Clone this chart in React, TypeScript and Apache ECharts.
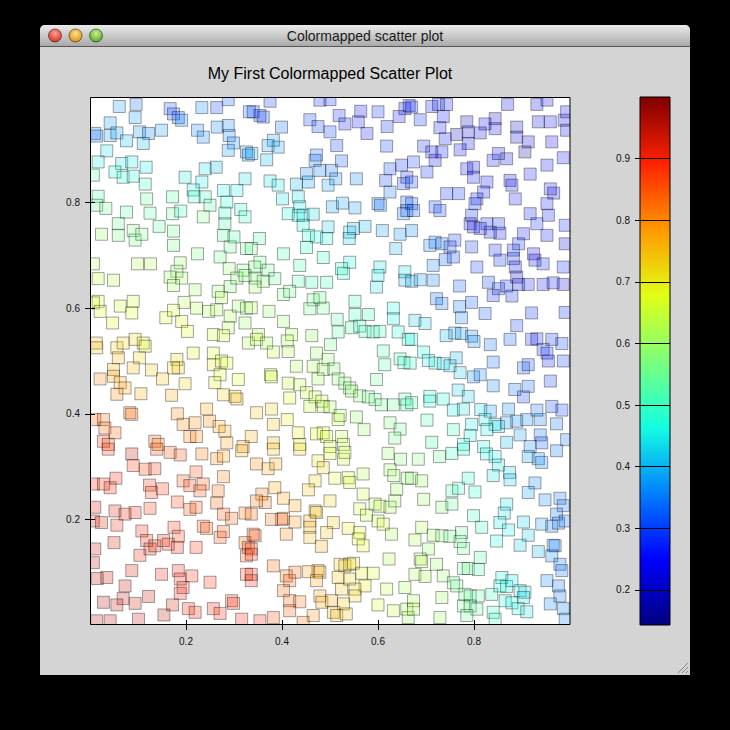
import React, { useEffect, useRef } from "react";
import * as echarts from "echarts";

// each point: [x, y, colour value]
const upperLeft = [
  [0.061, 0.982, 0.38], [0.096, 0.986, 0.34], [0.094, 0.961, 0.38], [0.167, 0.978, 0.32], [0.174, 0.968, 0.3],
  [0.184, 0.961, 0.32], [0.191, 0.956, 0.36], [0.233, 0.98, 0.36], [0.264, 0.98, 0.3], [0.288, 0.995, 0.32],
  [0.332, 0.972, 0.34], [0.042, 0.951, 0.38], [0.01, 0.931, 0.36], [0.014, 0.926, 0.34], [0.042, 0.927, 0.38],
  [0.056, 0.932, 0.38], [0.076, 0.917, 0.4], [0.103, 0.934, 0.37], [0.122, 0.931, 0.35], [0.111, 0.912, 0.4],
  [0.149, 0.937, 0.38], [0.224, 0.937, 0.36], [0.236, 0.924, 0.36], [0.265, 0.943, 0.36], [0.288, 0.946, 0.36],
  [0.29, 0.927, 0.36], [0.299, 0.913, 0.36], [0.288, 0.899, 0.38], [0.326, 0.896, 0.38], [0.33, 0.89, 0.34],
  [0.035, 0.898, 0.44], [0.017, 0.877, 0.45], [0.066, 0.874, 0.45], [0.087, 0.877, 0.45], [0.052, 0.858, 0.47],
  [0.069, 0.848, 0.48], [0.09, 0.85, 0.47], [0.117, 0.867, 0.45], [0.007, 0.852, 0.52], [0.115, 0.835, 0.5],
  [0.198, 0.848, 0.45], [0.24, 0.864, 0.44], [0.263, 0.867, 0.4], [0.233, 0.839, 0.45], [0.215, 0.824, 0.46],
  [0.278, 0.823, 0.46], [0.306, 0.823, 0.45], [0.323, 0.845, 0.44], [0.017, 0.812, 0.52], [0.014, 0.795, 0.55],
  [0.033, 0.789, 0.55], [0.076, 0.782, 0.53], [0.118, 0.807, 0.55], [0.125, 0.78, 0.54], [0.172, 0.811, 0.53],
  [0.172, 0.779, 0.55], [0.189, 0.784, 0.5], [0.217, 0.811, 0.49], [0.24, 0.811, 0.5], [0.25, 0.795, 0.52],
  [0.236, 0.773, 0.57], [0.285, 0.801, 0.47], [0.281, 0.78, 0.5], [0.314, 0.787, 0.48], [0.323, 0.773, 0.5],
  [0.059, 0.76, 0.55], [0.024, 0.74, 0.6], [0.059, 0.738, 0.57], [0.09, 0.747, 0.58], [0.094, 0.729, 0.56],
  [0.108, 0.74, 0.56], [0.144, 0.755, 0.54], [0.174, 0.746, 0.55], [0.174, 0.719, 0.56], [0.281, 0.76, 0.52],
  [0.278, 0.738, 0.53], [0.3, 0.735, 0.52], [0.292, 0.716, 0.55], [0.271, 0.697, 0.55], [0.224, 0.703, 0.57],
  [0.326, 0.713, 0.55], [0.007, 0.684, 0.63], [0.099, 0.684, 0.63], [0.126, 0.684, 0.63], [0.188, 0.686, 0.6],
  [0.181, 0.67, 0.6], [0.29, 0.675, 0.6], [0.319, 0.672, 0.58],
];

const upperMiddle = [
  [0.375, 0.992, 0.3], [0.479, 0.994, 0.28], [0.5, 0.995, 0.28], [0.34, 0.972, 0.3], [0.354, 0.965, 0.28],
  [0.361, 0.962, 0.3], [0.399, 0.943, 0.34], [0.458, 0.957, 0.3], [0.475, 0.944, 0.3], [0.5, 0.934, 0.3],
  [0.519, 0.965, 0.28], [0.531, 0.949, 0.27], [0.559, 0.953, 0.27], [0.564, 0.973, 0.25], [0.6, 0.972, 0.28],
  [0.577, 0.931, 0.26], [0.619, 0.944, 0.28], [0.618, 0.907, 0.3], [0.644, 0.963, 0.26], [0.656, 0.978, 0.25],
  [0.665, 0.984, 0.26], [0.514, 0.908, 0.3], [0.382, 0.918, 0.38], [0.371, 0.908, 0.38], [0.392, 0.905, 0.38],
  [0.368, 0.881, 0.4], [0.337, 0.893, 0.4], [0.472, 0.89, 0.34], [0.469, 0.88, 0.34], [0.524, 0.879, 0.32],
  [0.479, 0.861, 0.34], [0.503, 0.861, 0.34], [0.451, 0.855, 0.36], [0.455, 0.839, 0.38], [0.43, 0.835, 0.4],
  [0.375, 0.841, 0.44], [0.392, 0.833, 0.44], [0.496, 0.833, 0.38], [0.512, 0.845, 0.37], [0.555, 0.845, 0.36],
  [0.616, 0.842, 0.3], [0.625, 0.864, 0.3], [0.649, 0.871, 0.28], [0.66, 0.848, 0.28], [0.653, 0.836, 0.3],
  [0.625, 0.82, 0.34], [0.66, 0.801, 0.32], [0.401, 0.807, 0.44], [0.434, 0.811, 0.44], [0.437, 0.792, 0.45],
  [0.413, 0.779, 0.46], [0.434, 0.776, 0.46], [0.444, 0.776, 0.45], [0.465, 0.778, 0.43], [0.505, 0.792, 0.38],
  [0.526, 0.799, 0.38], [0.552, 0.79, 0.38], [0.6, 0.798, 0.35], [0.605, 0.795, 0.34], [0.653, 0.779, 0.34],
  [0.66, 0.785, 0.32], [0.444, 0.757, 0.47], [0.496, 0.754, 0.42], [0.541, 0.744, 0.42], [0.549, 0.751, 0.4],
  [0.573, 0.755, 0.4], [0.609, 0.747, 0.38], [0.646, 0.74, 0.37], [0.455, 0.738, 0.48], [0.472, 0.735, 0.47],
  [0.493, 0.732, 0.46], [0.54, 0.732, 0.42], [0.353, 0.732, 0.52], [0.336, 0.713, 0.55], [0.403, 0.703, 0.52],
  [0.451, 0.715, 0.48], [0.486, 0.696, 0.48], [0.637, 0.713, 0.4], [0.541, 0.687, 0.46], [0.604, 0.678, 0.44],
  [0.437, 0.681, 0.52], [0.354, 0.687, 0.55], [0.343, 0.678, 0.57], [0.371, 0.672, 0.55], [0.524, 0.675, 0.48],
  [0.656, 0.669, 0.44],
];

const upperRight = [
  [0.67, 0.981, 0.28], [0.688, 0.957, 0.28], [0.712, 0.982, 0.27], [0.726, 0.986, 0.26], [0.743, 0.986, 0.27],
  [0.729, 0.942, 0.26], [0.736, 0.963, 0.26], [0.74, 0.921, 0.26], [0.764, 0.929, 0.2], [0.785, 0.953, 0.2],
  [0.788, 0.934, 0.22], [0.788, 0.912, 0.24], [0.771, 0.9, 0.25], [0.813, 0.932, 0.24], [0.823, 0.949, 0.25],
  [0.844, 0.959, 0.22], [0.844, 0.94, 0.24], [0.87, 0.986, 0.25], [0.889, 0.943, 0.2], [0.889, 0.924, 0.22],
  [0.906, 0.896, 0.18], [0.913, 0.915, 0.22], [0.931, 0.986, 0.24], [0.934, 0.953, 0.22], [0.952, 0.994, 0.24],
  [0.959, 0.953, 0.24], [0.962, 0.915, 0.25], [0.988, 0.956, 0.24], [0.993, 0.972, 0.24], [0.993, 0.937, 0.24],
  [0.695, 0.907, 0.28], [0.712, 0.896, 0.24], [0.719, 0.88, 0.25], [0.733, 0.896, 0.26], [0.674, 0.877, 0.3],
  [0.702, 0.858, 0.28], [0.67, 0.839, 0.3], [0.785, 0.864, 0.26], [0.799, 0.867, 0.24], [0.799, 0.848, 0.26],
  [0.84, 0.88, 0.26], [0.851, 0.893, 0.26], [0.868, 0.883, 0.22], [0.917, 0.854, 0.26], [0.952, 0.871, 0.26],
  [0.986, 0.885, 0.26], [0.875, 0.842, 0.24], [0.879, 0.833, 0.26], [0.827, 0.839, 0.26], [0.82, 0.82, 0.26],
  [0.743, 0.817, 0.28], [0.768, 0.817, 0.28], [0.806, 0.807, 0.26], [0.886, 0.807, 0.27], [0.959, 0.826, 0.26],
  [0.966, 0.818, 0.22], [0.67, 0.798, 0.32], [0.719, 0.792, 0.3], [0.729, 0.785, 0.3], [0.674, 0.785, 0.32],
  [0.795, 0.776, 0.28], [0.802, 0.798, 0.28], [0.952, 0.798, 0.27], [0.955, 0.776, 0.27], [0.917, 0.779, 0.27],
  [0.792, 0.76, 0.22], [0.799, 0.754, 0.24], [0.813, 0.751, 0.26], [0.827, 0.76, 0.28], [0.834, 0.744, 0.26],
  [0.851, 0.76, 0.28], [0.854, 0.742, 0.26], [0.903, 0.741, 0.26], [0.931, 0.76, 0.28], [0.952, 0.738, 0.26],
  [0.893, 0.722, 0.28], [0.882, 0.71, 0.28], [0.99, 0.757, 0.28], [0.99, 0.722, 0.22], [0.67, 0.747, 0.36],
  [0.708, 0.719, 0.36], [0.719, 0.725, 0.34], [0.733, 0.722, 0.34], [0.76, 0.729, 0.3], [0.75, 0.716, 0.3],
  [0.757, 0.697, 0.3], [0.74, 0.692, 0.32], [0.715, 0.681, 0.36], [0.795, 0.716, 0.3], [0.806, 0.678, 0.3],
  [0.844, 0.71, 0.28], [0.854, 0.691, 0.28], [0.882, 0.694, 0.28], [0.886, 0.678, 0.24], [0.924, 0.703, 0.24],
  [0.927, 0.691, 0.24], [0.944, 0.684, 0.28], [0.986, 0.678, 0.28],
];

const centerLeft = [
  [0.017, 0.656, 0.65], [0.049, 0.653, 0.63], [0.167, 0.659, 0.6], [0.191, 0.657, 0.6], [0.174, 0.643, 0.62],
  [0.219, 0.635, 0.6], [0.267, 0.632, 0.6], [0.292, 0.641, 0.57], [0.274, 0.62, 0.63], [0.306, 0.657, 0.58],
  [0.323, 0.662, 0.58], [0.017, 0.613, 0.68], [0.007, 0.61, 0.68], [0.021, 0.594, 0.68], [0.063, 0.604, 0.66],
  [0.09, 0.613, 0.65], [0.087, 0.591, 0.68], [0.158, 0.582, 0.68], [0.174, 0.596, 0.66], [0.191, 0.575, 0.68],
  [0.203, 0.556, 0.69], [0.196, 0.611, 0.62], [0.222, 0.6, 0.62], [0.247, 0.594, 0.62], [0.264, 0.597, 0.62],
  [0.292, 0.585, 0.62], [0.309, 0.604, 0.6], [0.326, 0.6, 0.6], [0.288, 0.563, 0.62], [0.257, 0.55, 0.65],
  [0.278, 0.548, 0.65], [0.323, 0.572, 0.6], [0.33, 0.534, 0.62], [0.047, 0.572, 0.7], [0.013, 0.534, 0.75],
  [0.014, 0.525, 0.74], [0.056, 0.525, 0.73], [0.069, 0.534, 0.72], [0.094, 0.541, 0.72], [0.111, 0.534, 0.7],
  [0.115, 0.528, 0.7], [0.059, 0.506, 0.75], [0.103, 0.506, 0.72], [0.181, 0.503, 0.72], [0.184, 0.487, 0.74],
  [0.215, 0.515, 0.7], [0.257, 0.515, 0.67], [0.257, 0.493, 0.7], [0.274, 0.5, 0.67], [0.285, 0.496, 0.68],
  [0.271, 0.474, 0.67], [0.26, 0.459, 0.7], [0.309, 0.465, 0.68], [0.049, 0.484, 0.77], [0.021, 0.466, 0.8],
  [0.049, 0.471, 0.78], [0.063, 0.459, 0.78], [0.073, 0.449, 0.78], [0.09, 0.487, 0.75], [0.128, 0.483, 0.74],
  [0.151, 0.466, 0.74], [0.198, 0.457, 0.72], [0.174, 0.487, 0.72], [0.056, 0.437, 0.8], [0.106, 0.438, 0.77],
  [0.17, 0.435, 0.76], [0.278, 0.436, 0.72], [0.302, 0.433, 0.73], [0.306, 0.428, 0.76], [0.01, 0.389, 0.85],
  [0.028, 0.389, 0.83], [0.031, 0.373, 0.84], [0.052, 0.364, 0.83], [0.083, 0.402, 0.84], [0.087, 0.399, 0.82],
  [0.182, 0.4, 0.8], [0.194, 0.38, 0.8], [0.243, 0.409, 0.78], [0.249, 0.386, 0.8], [0.219, 0.383, 0.8],
  [0.208, 0.357, 0.81], [0.222, 0.357, 0.8], [0.269, 0.376, 0.78], [0.281, 0.367, 0.78], [0.028, 0.348, 0.88],
  [0.038, 0.342, 0.86], [0.135, 0.348, 0.84], [0.142, 0.342, 0.82], [0.285, 0.345, 0.78], [0.319, 0.338, 0.8],
];

const centerMiddle = [
  [0.344, 0.657, 0.58], [0.361, 0.651, 0.58], [0.385, 0.656, 0.55], [0.434, 0.651, 0.52], [0.462, 0.649, 0.5],
  [0.493, 0.649, 0.5], [0.528, 0.666, 0.48], [0.6, 0.662, 0.45], [0.656, 0.653, 0.4], [0.597, 0.64, 0.44],
  [0.344, 0.64, 0.6], [0.403, 0.626, 0.56], [0.416, 0.632, 0.55], [0.465, 0.616, 0.55], [0.479, 0.62, 0.55],
  [0.458, 0.599, 0.56], [0.486, 0.6, 0.56], [0.552, 0.613, 0.5], [0.336, 0.601, 0.62], [0.373, 0.594, 0.6],
  [0.403, 0.575, 0.6], [0.515, 0.579, 0.52], [0.517, 0.555, 0.52], [0.552, 0.588, 0.5], [0.58, 0.588, 0.5],
  [0.545, 0.563, 0.52], [0.562, 0.566, 0.5], [0.573, 0.556, 0.5], [0.59, 0.555, 0.5], [0.604, 0.556, 0.5],
  [0.632, 0.6, 0.46], [0.632, 0.58, 0.45], [0.642, 0.555, 0.47], [0.663, 0.541, 0.48], [0.611, 0.519, 0.52],
  [0.646, 0.504, 0.5], [0.654, 0.497, 0.5], [0.614, 0.493, 0.52], [0.351, 0.55, 0.64], [0.347, 0.541, 0.64],
  [0.368, 0.534, 0.62], [0.382, 0.517, 0.64], [0.42, 0.55, 0.62], [0.411, 0.538, 0.62], [0.413, 0.518, 0.63],
  [0.462, 0.548, 0.6], [0.501, 0.531, 0.56], [0.472, 0.515, 0.6], [0.496, 0.503, 0.6], [0.465, 0.49, 0.62],
  [0.486, 0.484, 0.6], [0.508, 0.485, 0.58], [0.43, 0.49, 0.63], [0.475, 0.466, 0.62], [0.517, 0.466, 0.58],
  [0.531, 0.458, 0.58], [0.541, 0.449, 0.58], [0.545, 0.443, 0.6], [0.562, 0.434, 0.58], [0.58, 0.432, 0.56],
  [0.594, 0.427, 0.56], [0.607, 0.417, 0.55], [0.632, 0.417, 0.55], [0.656, 0.428, 0.52], [0.66, 0.417, 0.5],
  [0.597, 0.465, 0.55], [0.376, 0.474, 0.66], [0.378, 0.47, 0.66], [0.413, 0.458, 0.65], [0.437, 0.455, 0.64],
  [0.416, 0.43, 0.68], [0.451, 0.44, 0.64], [0.469, 0.432, 0.65], [0.458, 0.414, 0.65], [0.483, 0.424, 0.64],
  [0.486, 0.414, 0.64], [0.5, 0.413, 0.63], [0.517, 0.389, 0.65], [0.521, 0.397, 0.62], [0.555, 0.394, 0.6],
  [0.571, 0.37, 0.6], [0.625, 0.383, 0.57], [0.646, 0.371, 0.55], [0.635, 0.354, 0.56], [0.347, 0.402, 0.73],
  [0.378, 0.409, 0.72], [0.382, 0.38, 0.74], [0.411, 0.389, 0.7], [0.434, 0.364, 0.7], [0.472, 0.362, 0.68],
  [0.486, 0.364, 0.68], [0.493, 0.357, 0.66], [0.524, 0.357, 0.64], [0.528, 0.342, 0.64], [0.336, 0.357, 0.76],
  [0.382, 0.345, 0.76], [0.437, 0.342, 0.7], [0.5, 0.338, 0.66],
];

const centerRight = [
  [0.67, 0.651, 0.38], [0.688, 0.654, 0.38], [0.715, 0.653, 0.35], [0.77, 0.642, 0.32], [0.83, 0.649, 0.3],
  [0.851, 0.637, 0.28], [0.868, 0.642, 0.28], [0.889, 0.659, 0.2], [0.893, 0.645, 0.24], [0.913, 0.645, 0.27],
  [0.944, 0.645, 0.26], [0.965, 0.648, 0.26], [0.986, 0.645, 0.22], [0.84, 0.624, 0.28], [0.879, 0.623, 0.28],
  [0.722, 0.618, 0.34], [0.733, 0.609, 0.34], [0.77, 0.603, 0.34], [0.795, 0.611, 0.32], [0.823, 0.59, 0.32],
  [0.774, 0.582, 0.36], [0.92, 0.591, 0.28], [0.99, 0.592, 0.28], [0.677, 0.577, 0.42], [0.698, 0.571, 0.43],
  [0.889, 0.567, 0.3], [0.67, 0.541, 0.45], [0.742, 0.548, 0.4], [0.76, 0.553, 0.38], [0.774, 0.552, 0.38],
  [0.795, 0.547, 0.36], [0.8, 0.537, 0.36], [0.834, 0.531, 0.34], [0.875, 0.541, 0.32], [0.92, 0.541, 0.28],
  [0.931, 0.542, 0.27], [0.962, 0.541, 0.28], [0.983, 0.533, 0.3], [0.944, 0.522, 0.28], [0.952, 0.515, 0.27],
  [0.695, 0.517, 0.46], [0.705, 0.501, 0.45], [0.719, 0.496, 0.45], [0.736, 0.495, 0.44], [0.75, 0.491, 0.42],
  [0.763, 0.506, 0.4], [0.771, 0.478, 0.42], [0.799, 0.47, 0.36], [0.813, 0.474, 0.36], [0.84, 0.498, 0.34],
  [0.903, 0.487, 0.32], [0.913, 0.493, 0.3], [0.955, 0.5, 0.27], [0.986, 0.5, 0.3], [0.667, 0.496, 0.48],
  [0.84, 0.453, 0.36], [0.885, 0.446, 0.34], [0.903, 0.432, 0.3], [0.913, 0.452, 0.33], [0.959, 0.462, 0.3],
  [0.767, 0.445, 0.42], [0.788, 0.433, 0.42], [0.708, 0.433, 0.48], [0.708, 0.424, 0.48], [0.736, 0.428, 0.46],
  [0.757, 0.407, 0.45], [0.778, 0.409, 0.44], [0.67, 0.421, 0.52], [0.814, 0.408, 0.44], [0.834, 0.405, 0.38],
  [0.872, 0.409, 0.36], [0.931, 0.407, 0.34], [0.962, 0.414, 0.3], [0.983, 0.407, 0.3], [0.702, 0.388, 0.52],
  [0.795, 0.38, 0.45], [0.823, 0.389, 0.45], [0.844, 0.38, 0.44], [0.827, 0.37, 0.45], [0.851, 0.376, 0.43],
  [0.868, 0.383, 0.38], [0.889, 0.386, 0.36], [0.91, 0.389, 0.36], [0.938, 0.389, 0.34], [0.972, 0.381, 0.34],
  [0.757, 0.37, 0.5], [0.792, 0.359, 0.46], [0.896, 0.36, 0.38], [0.938, 0.36, 0.34], [0.941, 0.345, 0.32],
  [0.712, 0.346, 0.52], [0.778, 0.342, 0.48], [0.82, 0.338, 0.46], [0.868, 0.346, 0.4], [0.917, 0.338, 0.36],
  [0.993, 0.351, 0.34],
];

const lowerLeft = [
  [0.038, 0.333, 0.88], [0.087, 0.324, 0.95], [0.09, 0.302, 0.88], [0.139, 0.333, 0.85], [0.167, 0.327, 0.86],
  [0.188, 0.322, 0.86], [0.233, 0.324, 0.82], [0.264, 0.315, 0.8], [0.278, 0.32, 0.78], [0.316, 0.33, 0.76],
  [0.115, 0.295, 0.88], [0.135, 0.296, 0.88], [0.007, 0.267, 0.9], [0.028, 0.267, 0.9], [0.042, 0.26, 0.9],
  [0.054, 0.278, 0.9], [0.124, 0.265, 0.88], [0.128, 0.251, 0.88], [0.151, 0.258, 0.88], [0.194, 0.273, 0.86],
  [0.208, 0.264, 0.88], [0.221, 0.29, 0.86], [0.236, 0.267, 0.85], [0.229, 0.254, 0.86], [0.267, 0.254, 0.84],
  [0.264, 0.231, 0.84], [0.278, 0.281, 0.8], [0.182, 0.233, 0.87], [0.208, 0.219, 0.86], [0.221, 0.223, 0.86],
  [0.01, 0.223, 0.92], [0.007, 0.197, 0.93], [0.024, 0.194, 0.92], [0.052, 0.216, 0.92], [0.056, 0.189, 0.9],
  [0.073, 0.21, 0.92], [0.094, 0.213, 0.9], [0.125, 0.221, 0.88], [0.108, 0.178, 0.9], [0.175, 0.185, 0.88],
  [0.184, 0.168, 0.88], [0.236, 0.187, 0.86], [0.243, 0.183, 0.86], [0.271, 0.166, 0.86], [0.278, 0.177, 0.86],
  [0.278, 0.21, 0.85], [0.295, 0.202, 0.84], [0.323, 0.212, 0.82], [0.323, 0.156, 0.84], [0.33, 0.147, 0.86],
  [0.05, 0.156, 0.92], [0.01, 0.144, 0.94], [0.007, 0.118, 0.95], [0.118, 0.16, 0.9], [0.104, 0.132, 0.9],
  [0.125, 0.144, 0.92], [0.135, 0.15, 0.92], [0.153, 0.16, 0.9], [0.163, 0.153, 0.9], [0.182, 0.147, 0.9],
  [0.221, 0.147, 0.88], [0.326, 0.131, 0.86], [0.326, 0.096, 0.88], [0.087, 0.103, 0.92], [0.015, 0.088, 0.94],
  [0.035, 0.09, 0.94], [0.149, 0.096, 0.9], [0.184, 0.103, 0.9], [0.188, 0.087, 0.9], [0.212, 0.093, 0.88],
  [0.194, 0.071, 0.9], [0.188, 0.06, 0.9], [0.25, 0.081, 0.88], [0.073, 0.074, 0.94], [0.069, 0.05, 0.94],
  [0.094, 0.041, 0.93], [0.122, 0.054, 0.94], [0.028, 0.043, 0.96], [0.056, 0.038, 0.95], [0.172, 0.038, 0.92],
  [0.154, 0.019, 0.95], [0.205, 0.031, 0.9], [0.219, 0.024, 0.9], [0.257, 0.031, 0.9], [0.271, 0.022, 0.9],
  [0.295, 0.046, 0.88], [0.299, 0.041, 0.9], [0.316, 0.011, 0.9], [0.101, 0.011, 0.94], [0.014, 0.008, 0.96],
  [0.042, 0.008, 0.95],
];

const lowerMiddle = [
  [0.382, 0.333, 0.74], [0.437, 0.333, 0.72], [0.347, 0.305, 0.8], [0.371, 0.296, 0.78], [0.387, 0.305, 0.78],
  [0.475, 0.311, 0.7], [0.486, 0.298, 0.72], [0.5, 0.325, 0.68], [0.528, 0.314, 0.65], [0.531, 0.327, 0.66],
  [0.51, 0.278, 0.68], [0.538, 0.279, 0.66], [0.541, 0.27, 0.67], [0.569, 0.286, 0.63], [0.621, 0.325, 0.6],
  [0.647, 0.314, 0.58], [0.625, 0.294, 0.6], [0.633, 0.283, 0.6], [0.661, 0.278, 0.58], [0.469, 0.273, 0.72],
  [0.455, 0.256, 0.74], [0.385, 0.26, 0.78], [0.358, 0.248, 0.82], [0.365, 0.232, 0.82], [0.347, 0.235, 0.82],
  [0.403, 0.24, 0.78], [0.427, 0.226, 0.78], [0.639, 0.257, 0.6], [0.569, 0.248, 0.64], [0.562, 0.22, 0.66],
  [0.576, 0.208, 0.65], [0.594, 0.229, 0.63], [0.604, 0.225, 0.64], [0.625, 0.223, 0.62], [0.635, 0.235, 0.6],
  [0.6, 0.197, 0.64], [0.611, 0.191, 0.66], [0.628, 0.172, 0.62], [0.469, 0.216, 0.74], [0.472, 0.213, 0.76],
  [0.5, 0.235, 0.72], [0.458, 0.197, 0.76], [0.458, 0.185, 0.76], [0.458, 0.166, 0.75], [0.507, 0.194, 0.74],
  [0.493, 0.175, 0.74], [0.482, 0.149, 0.76], [0.403, 0.202, 0.82], [0.399, 0.2, 0.84], [0.378, 0.2, 0.82],
  [0.427, 0.195, 0.8], [0.409, 0.172, 0.8], [0.336, 0.21, 0.84], [0.34, 0.172, 0.86], [0.344, 0.169, 0.86],
  [0.336, 0.144, 0.88], [0.336, 0.134, 0.88], [0.538, 0.183, 0.7], [0.562, 0.175, 0.68], [0.559, 0.163, 0.68],
  [0.569, 0.15, 0.68], [0.623, 0.125, 0.62], [0.382, 0.112, 0.84], [0.409, 0.093, 0.84], [0.416, 0.084, 0.84],
  [0.427, 0.1, 0.84], [0.455, 0.101, 0.78], [0.475, 0.103, 0.78], [0.479, 0.1, 0.76], [0.472, 0.084, 0.78],
  [0.521, 0.115, 0.74], [0.531, 0.112, 0.74], [0.541, 0.115, 0.72], [0.549, 0.117, 0.72], [0.517, 0.09, 0.74],
  [0.524, 0.068, 0.74], [0.541, 0.087, 0.72], [0.566, 0.098, 0.7], [0.59, 0.098, 0.68], [0.573, 0.074, 0.7],
  [0.552, 0.068, 0.72], [0.552, 0.055, 0.72], [0.618, 0.068, 0.64], [0.656, 0.071, 0.62], [0.336, 0.096, 0.9],
  [0.336, 0.084, 0.9], [0.403, 0.065, 0.84], [0.416, 0.046, 0.84], [0.437, 0.044, 0.82], [0.479, 0.055, 0.78],
  [0.483, 0.043, 0.78], [0.503, 0.046, 0.76], [0.528, 0.04, 0.74], [0.507, 0.024, 0.76], [0.514, 0.018, 0.75],
  [0.534, 0.021, 0.74], [0.465, 0.018, 0.8], [0.6, 0.038, 0.66], [0.632, 0.027, 0.64], [0.66, 0.03, 0.62],
  [0.663, 0.014, 0.6], [0.416, 0.027, 0.84], [0.382, 0.014, 0.86], [0.354, 0.008, 0.9], [0.444, 0.005, 0.82],
];

const lowerRight = [
  [0.684, 0.314, 0.58], [0.728, 0.319, 0.55], [0.754, 0.325, 0.5], [0.778, 0.333, 0.48], [0.826, 0.324, 0.45],
  [0.844, 0.319, 0.45], [0.851, 0.303, 0.44], [0.84, 0.283, 0.44], [0.874, 0.289, 0.42], [0.875, 0.275, 0.42],
  [0.913, 0.319, 0.38], [0.934, 0.315, 0.37], [0.941, 0.308, 0.36], [0.972, 0.33, 0.34], [0.67, 0.278, 0.6],
  [0.691, 0.273, 0.6], [0.754, 0.254, 0.52], [0.768, 0.259, 0.5], [0.788, 0.278, 0.48], [0.802, 0.252, 0.48],
  [0.927, 0.269, 0.36], [0.913, 0.251, 0.38], [0.948, 0.237, 0.36], [0.979, 0.24, 0.34], [0.986, 0.226, 0.34],
  [0.695, 0.238, 0.6], [0.733, 0.223, 0.58], [0.754, 0.229, 0.55], [0.799, 0.207, 0.5], [0.816, 0.185, 0.5],
  [0.868, 0.229, 0.44], [0.863, 0.212, 0.44], [0.854, 0.194, 0.45], [0.872, 0.18, 0.45], [0.903, 0.195, 0.42],
  [0.913, 0.17, 0.42], [0.941, 0.191, 0.38], [0.962, 0.187, 0.35], [0.972, 0.21, 0.34], [0.976, 0.193, 0.34],
  [0.99, 0.197, 0.34], [0.847, 0.159, 0.46], [0.896, 0.151, 0.43], [0.934, 0.139, 0.4], [0.965, 0.151, 0.36],
  [0.969, 0.15, 0.36], [0.691, 0.185, 0.62], [0.677, 0.161, 0.62], [0.715, 0.17, 0.6], [0.733, 0.169, 0.58],
  [0.75, 0.168, 0.56], [0.774, 0.175, 0.55], [0.771, 0.158, 0.55], [0.778, 0.145, 0.55], [0.705, 0.144, 0.6],
  [0.688, 0.125, 0.62], [0.691, 0.12, 0.62], [0.722, 0.115, 0.6], [0.677, 0.096, 0.62], [0.698, 0.092, 0.62],
  [0.736, 0.093, 0.6], [0.778, 0.107, 0.55], [0.788, 0.107, 0.55], [0.813, 0.128, 0.52], [0.809, 0.105, 0.52],
  [0.962, 0.131, 0.36], [0.979, 0.115, 0.34], [0.983, 0.103, 0.34], [0.952, 0.084, 0.36], [0.976, 0.074, 0.34],
  [0.979, 0.055, 0.35], [0.986, 0.031, 0.35], [0.757, 0.08, 0.56], [0.764, 0.074, 0.56], [0.781, 0.058, 0.55],
  [0.792, 0.055, 0.54], [0.809, 0.055, 0.54], [0.778, 0.036, 0.56], [0.792, 0.036, 0.55], [0.806, 0.03, 0.54],
  [0.785, 0.018, 0.55], [0.837, 0.058, 0.5], [0.858, 0.09, 0.46], [0.854, 0.074, 0.47], [0.868, 0.073, 0.46],
  [0.879, 0.084, 0.45], [0.896, 0.065, 0.44], [0.906, 0.062, 0.44], [0.903, 0.052, 0.44], [0.865, 0.046, 0.46],
  [0.879, 0.042, 0.46], [0.892, 0.031, 0.46], [0.91, 0.025, 0.44], [0.959, 0.04, 0.36], [0.674, 0.046, 0.62],
  [0.674, 0.03, 0.62], [0.733, 0.052, 0.6], [0.729, 0.014, 0.6], [0.84, 0.024, 0.5], [0.844, 0.011, 0.5],
  [0.99, 0.011, 0.36],
];

const axisTicks = [0.2, 0.4, 0.6, 0.8];
const colorTicks = [0.2, 0.3, 0.4, 0.5, 0.6, 0.7, 0.8, 0.9];
const colorMin = 0.143;
const colorMax = 1.0;

// matplotlib "jet", sampled at 9 even steps
const jet = ["#00007f", "#0000ff", "#0080ff", "#14ffe2", "#7bff7b", "#e2ff14", "#ff9700", "#ff2100", "#7f0000"];

const withAlpha = (hex: string, a: number) => {
  const n = parseInt(hex.slice(1), 16);
  return `rgba(${(n >> 16) & 255},${(n >> 8) & 255},${n & 255},${a})`;
};

const FONT = '"Liberation Sans", Arial, sans-serif';
const WIN = "#d4d4d4";

const App = () => {
  const chartRef = useRef<HTMLDivElement>(null);

  useEffect(() => {
    const chart = echarts.init(chartRef.current, null, { renderer: "svg" });

    const points = [
      ...upperLeft, ...upperMiddle, ...upperRight,
      ...centerLeft, ...centerMiddle, ...centerRight,
      ...lowerLeft, ...lowerMiddle, ...lowerRight,
    ];

    const plot = { left: 90, top: 97, width: 480, height: 528 };
    const bar = { left: 640, top: 97, width: 30, height: 528 };
    const tickLabel = { fontSize: 10, color: "#111", fontFamily: FONT };

    chart.setOption({
      animation: false,
      backgroundColor: "#000",
      grid: [
        { ...plot, show: true, backgroundColor: "#fff", borderWidth: 0 },
        { ...plot, show: false },
        {
          ...bar,
          show: true,
          borderColor: "#000",
          borderWidth: 1,
          backgroundColor: new echarts.graphic.LinearGradient(
            0, 1, 0, 0,
            jet.map((c, i) => ({ offset: i / (jet.length - 1), color: c }))
          ),
        },
        { ...bar, show: false },
      ],
      xAxis: [
        {
          gridIndex: 0, type: "value", min: 0, max: 1, z: 10,
          axisLine: { show: false }, splitLine: { show: false },
          axisTick: { show: true, length: 5, customValues: axisTicks, lineStyle: { color: "#000" } },
          axisLabel: { ...tickLabel, margin: 11, customValues: axisTicks },
        },
        {
          gridIndex: 1, type: "value", min: 0, max: 1, z: 10,
          axisLine: { show: false }, splitLine: { show: false }, axisLabel: { show: false },
          axisTick: { show: true, inside: true, length: 5, customValues: axisTicks, lineStyle: { color: "#000" } },
        },
        { gridIndex: 2, type: "value", min: 0, max: 1, show: false },
        { gridIndex: 3, type: "value", min: 0, max: 1, show: false },
      ],
      yAxis: [
        {
          gridIndex: 0, type: "value", min: 0, max: 1, z: 10,
          axisLine: { show: false }, splitLine: { show: false },
          axisTick: { show: true, length: 5, customValues: axisTicks, lineStyle: { color: "#000" } },
          axisLabel: { ...tickLabel, margin: 10, customValues: axisTicks },
        },
        {
          gridIndex: 1, type: "value", min: 0, max: 1, z: 10,
          axisLine: { show: false }, splitLine: { show: false }, axisLabel: { show: false },
          axisTick: { show: true, inside: true, length: 5, customValues: axisTicks, lineStyle: { color: "#000" } },
        },
        {
          gridIndex: 2, type: "value", min: colorMin, max: colorMax, position: "left", z: 10,
          axisLine: { show: false }, splitLine: { show: false },
          axisTick: { show: true, length: 5, customValues: colorTicks, lineStyle: { color: "#000" } },
          axisLabel: { ...tickLabel, margin: 10, customValues: colorTicks },
        },
        {
          gridIndex: 3, type: "value", min: colorMin, max: colorMax, position: "left", z: 10,
          axisLine: { show: false }, splitLine: { show: false }, axisLabel: { show: false },
          axisTick: { show: true, inside: true, length: 30, customValues: colorTicks, lineStyle: { color: "#000" } },
        },
      ],
      visualMap: {
        type: "continuous",
        show: false,
        seriesIndex: 0,
        dimension: 2,
        min: colorMin,
        max: colorMax,
        inRange: { color: jet.map((c) => withAlpha(c, 0.3)) },
      },
      series: [
        {
          type: "scatter",
          xAxisIndex: 0,
          yAxisIndex: 0,
          symbol: "rect",
          symbolSize: 12,
          data: points,
          itemStyle: { borderColor: "rgba(0,0,0,0.45)", borderWidth: 1 },
          emphasis: { disabled: true },
        },
      ],
      graphic: [
        // window frame
        { type: "rect", z: -1, shape: { x: 40, y: 25, width: 650, height: 650, r: [5, 5, 0, 0] }, style: { fill: WIN } },
        {
          type: "rect", z: -1,
          shape: { x: 40, y: 25, width: 650, height: 21, r: [5, 5, 0, 0] },
          style: {
            fill: new echarts.graphic.LinearGradient(0, 0, 0, 1, [
              { offset: 0, color: "#ebebeb" },
              { offset: 1, color: "#a9a9a9" },
            ]),
          },
        },
        { type: "line", z: -1, shape: { x1: 40, y1: 46.5, x2: 690, y2: 46.5 }, style: { stroke: "#585858", lineWidth: 1 } },
        ...[
          ["#ff9d92", "#d42a1c"],
          ["#ffe08c", "#d98c00"],
          ["#c8f28e", "#4c9e22"],
        ].map(([inner, outer], i) => ({
          type: "circle",
          z: -1,
          shape: { cx: 55 + i * 20.5, cy: 35.5, r: 6.5 },
          style: {
            fill: new echarts.graphic.RadialGradient(0.5, 0.35, 0.7, [
              { offset: 0, color: inner },
              { offset: 1, color: outer },
            ]),
            stroke: "rgba(0,0,0,0.45)",
            lineWidth: 1,
          },
        })),
        {
          type: "text", z: -1, x: 365, y: 35.5,
          style: { text: "Colormapped scatter plot", fill: "#1a1a1a", font: `14px ${FONT}`, textAlign: "center", textVerticalAlign: "middle" },
        },
        ...[0, 4, 8].map((d) => ({
          type: "line", z: -1,
          shape: { x1: 678 + d, y1: 673, x2: 688, y2: 663 + d },
          style: { stroke: "#8a8a8a", lineWidth: 1 },
        })),
        // chart title
        {
          type: "text", x: 330, y: 73,
          style: { text: "My First Colormapped Scatter Plot", fill: "#000", font: `16px ${FONT}`, textAlign: "center", textVerticalAlign: "middle" },
        },
        // masks hiding the parts of squares that spill out of the plot
        { type: "rect", z: 5, shape: { x: 78, y: 84, width: 12, height: 554 }, style: { fill: WIN } },
        { type: "rect", z: 5, shape: { x: 570, y: 84, width: 12, height: 554 }, style: { fill: WIN } },
        { type: "rect", z: 5, shape: { x: 78, y: 84, width: 504, height: 13 }, style: { fill: WIN } },
        { type: "rect", z: 5, shape: { x: 78, y: 625, width: 504, height: 13 }, style: { fill: WIN } },
        { type: "rect", z: 6, shape: { x: 90.5, y: 97.5, width: 479.5, height: 527 }, style: { fill: "none", stroke: "#000", lineWidth: 1 } },
      ],
    });

    return () => {
      chart.dispose();
    };
  }, []);

  return (
    <div
      ref={chartRef}
      style={{ position: "fixed", left: 0, top: 0, width: "730px", height: "730px" }}
    ></div>
  );
};

export default App;
